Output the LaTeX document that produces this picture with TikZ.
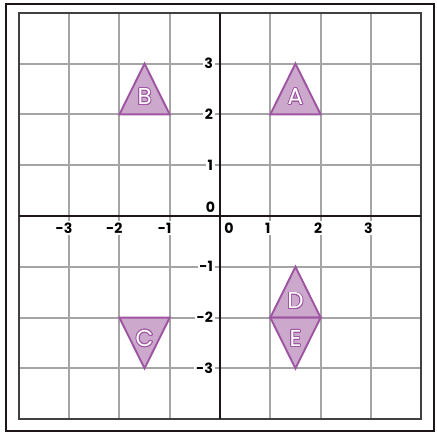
\documentclass[tikz,border=0pt]{standalone}
\usepackage{fontspec}
\setmainfont{Poppins}
\usepackage{xcolor}
\usepackage{contour}
\usetikzlibrary{positioning}
\definecolor{gridgray}{RGB}{165,165,165}
\definecolor{trifill}{RGB}{204,168,204}
\definecolor{triedge}{RGB}{158,86,162}
\definecolor{framedark}{RGB}{30,22,22}
\contourlength{0.5pt}
\newcommand{\trimark}[1]{\contour{triedge}{\textcolor{white}{#1}}}

\begin{document}
\begin{tikzpicture}[x=1cm, y=1.01cm,
    gridline/.style={gridgray, line width=1.1pt},
    axisline/.style={framedark, line width=1.4pt},
    ticklabel/.style={fill=white, inner sep=1pt, font=\bfseries\fontsize{8}{9}\selectfont},
    tri/.style={fill=trifill, draw=triedge, line width=1.1pt, line join=miter},
    trilabel/.style={inner sep=0pt, font=\fontsize{13}{14}\selectfont}
]
\useasboundingbox (-4.374,-4.311) rectangle (4.314,4.252);

% grid
\foreach \k in {-3,...,3} {
    \draw[gridline] (\k,-4) -- (\k,4);
    \draw[gridline] (-4,\k) -- (4,\k);
}
\draw[line width=1.1pt, black!75] (-4,-4) rectangle (4,4);

% tick labels
\foreach \k in {1,2,3} {
    \node[ticklabel, anchor=east] (yp\k) at (-0.1,\k) {\k};
    \node[ticklabel, anchor=east] (yn\k) at (-0.1,-\k) {-\k};
    \node[ticklabel] (xp\k) at (\k-0.05,-0.24) {\k};
    \node[ticklabel] (xn\k) at (-\k-0.1,-0.24) {-\k};
}
\node[ticklabel] (y0) at (-0.19,0.18) {0};
\node[ticklabel] (x0) at (0.18,-0.24) {0};

% axes
\draw[axisline] (-4,0) -- (4,0);
\draw[axisline] (0,-4) -- (0,4);

% triangles
\draw[tri] (1,2) -- (2,2) -- (1.5,3) -- cycle;
\draw[tri] (-2,2) -- (-1,2) -- (-1.5,3) -- cycle;
\draw[tri] (-2,-2) -- (-1,-2) -- (-1.5,-3) -- cycle;
\draw[tri] (1,-2) -- (2,-2) -- (1.5,-1) -- cycle;
\draw[tri] (1,-2) -- (2,-2) -- (1.5,-3) -- cycle;

\node[trilabel] (la) at (1.5,2.34) {\trimark{A}};
\node[trilabel] (lb) at (-1.5,2.34) {\trimark{B}};
\node[trilabel] (lc) at (-1.5,-2.42) {\trimark{C}};
\node[trilabel] (ld) at (1.5,-1.68) {\trimark{D}};
\node[trilabel] (le) at (1.5,-2.42) {\trimark{E}};

% outer frame
\draw[framedark, line width=1.4pt] (-4.254,-4.232) rectangle (4.254,4.173);
\end{tikzpicture}
\end{document}
